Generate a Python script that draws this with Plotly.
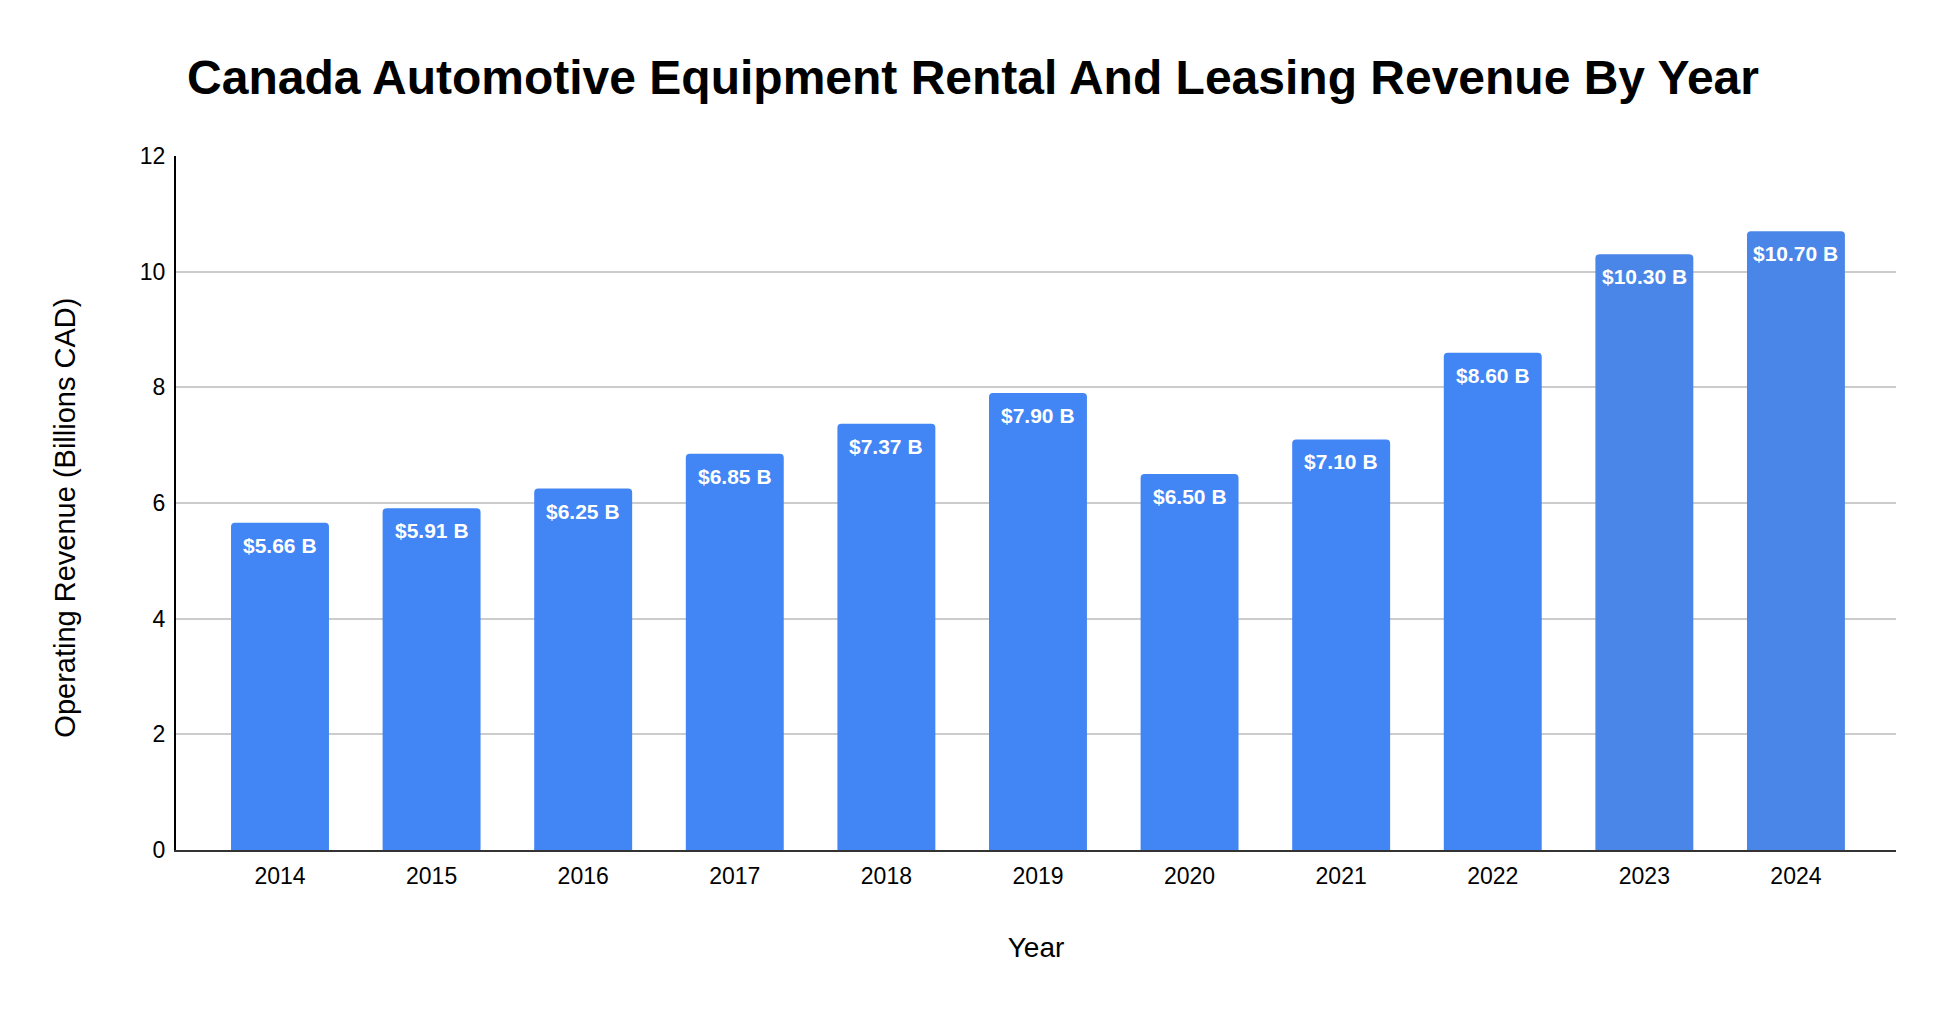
import plotly.graph_objects as go

# Revenue by year (billions CAD)
years = ["2014", "2015", "2016", "2017", "2018", "2019", "2020", "2021", "2022", "2023", "2024"]
revenue = [5.66, 5.91, 6.25, 6.85, 7.37, 7.90, 6.50, 7.10, 8.60, 10.30, 10.70]
y_ticks = [0, 2, 4, 6, 8, 10, 12]

# last two bars are a slightly different blue in the original
bar_colors = ["#4285F4"] * 9 + ["#4A86E8"] * 2
labels = ["<b>$%.2f B</b>" % v for v in revenue]

font_family = "Arial, Liberation Sans, sans-serif"

fig = go.Figure(data=go.Bar(
    x=years,
    y=revenue,
    marker=dict(color=bar_colors, cornerradius=4, line=dict(width=0)),
    hoverinfo="x+y",
))

# value labels just inside the top of each bar
# (category index for x: "2014" etc. would be read as numbers)
for i, (val, lab) in enumerate(zip(revenue, labels)):
    fig.add_annotation(
        x=i, y=val, text=lab, showarrow=False,
        xanchor="center", yanchor="top", yshift=-9,
        font=dict(family=font_family, size=21, color="white"),
    )

# y axis title as an annotation so it can sit a bit below centre like the original
fig.add_annotation(
    text="Operating Revenue (Billions CAD)", textangle=-90,
    xref="paper", yref="paper", x=-0.0645, y=0.479,
    xanchor="center", yanchor="middle", showarrow=False,
    font=dict(family=font_family, size=29, color="#000000"),
)

fig.update_layout(
    width=1946,
    height=1014,
    paper_bgcolor="white",
    plot_bgcolor="white",
    bargap=0.354,
    showlegend=False,
    margin=dict(l=168, r=58, t=148, b=172, autoexpand=False),
    font=dict(family=font_family, color="#000000"),
    title=dict(
        text="<b>Canada Automotive Equipment Rental And Leasing Revenue By Year</b>",
        font=dict(size=48, color="#000000", family=font_family),
        x=0.4959, xanchor="center", xref="container",
        y=0.932, yanchor="middle", yref="container",
    ),
)

fig.update_xaxes(
    type="category",
    range=[-0.686, 10.66],
    showgrid=False,
    showline=True, linecolor="#333333", linewidth=2,
    ticks="",
    ticklabelstandoff=4,
    tickfont=dict(size=23, color="#000000"),
    title=dict(text="Year", font=dict(size=28, color="#000000"), standoff=50),
    automargin=False,
)

fig.update_yaxes(
    range=[0, 12],
    tickvals=y_ticks,
    showgrid=True, gridcolor="#CCCCCC", gridwidth=2,
    zeroline=False,
    showline=True, linecolor="#000000", linewidth=2,
    ticks="",
    ticklabelstandoff=4,
    tickfont=dict(size=23, color="#000000"),
    automargin=False,
)

fig.write_html("out.html")
